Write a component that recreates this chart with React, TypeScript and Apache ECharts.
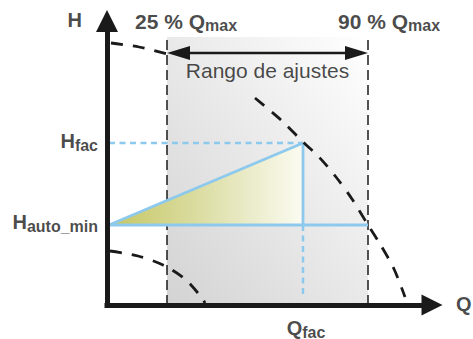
import { useEffect, useRef } from "react";
import * as echarts from "echarts";

// ---- data (x: flow Q in diagram units, y: head H in diagram units) ----
const X_MAX = 325;
const Y_MAX = 284;
const Q_25 = 60; // 25 % Qmax
const Q_90 = 261; // 90 % Qmax
const RANGE_TOP = 268;
const RANGE_ARROW_H = 252;
const Q_FAC = 196;
const H_FAC = 162;
const H_AUTO_MIN = 80;
const Q_START = 2;
const Q_FAC_DASH_END = 8;

// max-speed pump curve (broken where it runs under the label)
const maxCurve: (number | string)[][] = [
  [4, 262], [32, 258], [60, 251], [104, "-"],
  [148, 207], [174, 185], [196, 163], [212, 148], [229, 128], [245, 106],
  [261, 80], [273, 61], [287, 36], [298, 8],
];
// min-speed pump curve
const minCurve: number[][] = [
  [3, 54], [31, 49], [56, 40], [78, 26], [95, 7], [98, 2],
];

const axisNames = ["H", "Q"];
const topLabels = ["25 %", "90 %"];
const rangeText = "Rango de ajustes";

const INK = "#1a1a1a";
const BLUE = "#8dc9ed";
const FONT = "'Liberation Sans', Arial, sans-serif";

const rich = {
  m: { fontSize: 20, fontWeight: "bold", color: INK, fontFamily: FONT, verticalAlign: "bottom", padding: [0, 0, 2, 0] },
  t: { fontSize: 21, fontWeight: "bold", color: INK, fontFamily: FONT, verticalAlign: "bottom", padding: [0, 0, 2, 0] },
  s: { fontSize: 16, fontWeight: "bold", color: INK, fontFamily: FONT, verticalAlign: "bottom" },
};

export default function App() {
  const ref = useRef<HTMLDivElement>(null);
  useEffect(() => {
    if (!ref.current) return;
    const chart = echarts.init(ref.current, null, { renderer: "svg" });
    const axisCommon = {
      type: "value",
      z: 10,
      axisTick: { show: false },
      axisLabel: { show: false },
      splitLine: { show: false },
    };
    const lbl = (value: number[], formatter: string, align: string, offset: number[], extra: any = {}) => ({
      value,
      label: { show: true, position: "inside", formatter, align, verticalAlign: "middle", offset, rich, ...extra },
    });
    chart.setOption({
      animation: false,
      backgroundColor: "#ffffff",
      grid: { left: 107, right: 41, top: 21, bottom: 34 },
      xAxis: {
        ...axisCommon,
        min: 0,
        max: X_MAX,
        axisLine: { show: true, symbol: ["none", "triangle"], symbolSize: [21, 21], lineStyle: { color: INK, width: 5, cap: "square" } },
      },
      yAxis: {
        ...axisCommon,
        min: 0,
        max: Y_MAX,
        axisLine: { show: true, symbol: ["none", "triangle"], symbolSize: [22, 22], lineStyle: { color: INK, width: 5, cap: "square" } },
      },
      series: [
        {
          type: "custom",
          silent: true,
          z: 1,
          encode: { x: [0, 1], y: 2 },
          data: [[Q_25, Q_90, RANGE_TOP]],
          renderItem: (params: any, api: any) => {
            const p0 = api.coord([api.value(0), 0]);
            const p1 = api.coord([api.value(1), api.value(2)]);
            return {
              type: "rect",
              shape: { x: p0[0], y: p1[1], width: p1[0] - p0[0], height: p0[1] - p1[1] },
              style: {
                fill: new echarts.graphic.LinearGradient(0, 1, 1, 0, [
                  { offset: 0, color: "#d3d3d3" },
                  { offset: 1, color: "#ffffff" },
                ]),
              },
            };
          },
        },
        // dashed range limits
        { type: "line", symbol: "none", silent: true, z: 2, data: [[Q_25, 0], [Q_25, RANGE_TOP]], lineStyle: { color: INK, width: 1.5, type: [10, 5] } },
        { type: "line", symbol: "none", silent: true, z: 2, data: [[Q_90, 0], [Q_90, RANGE_TOP]], lineStyle: { color: INK, width: 1.5, type: [10, 5] } },
        {
          type: "custom",
          silent: true,
          z: 3,
          encode: { x: [0, 1], y: [2, 3] },
          data: [[Q_START, Q_FAC, H_AUTO_MIN, H_FAC]],
          renderItem: (params: any, api: any) => {
            const a = api.coord([api.value(0), api.value(2)]);
            const b = api.coord([api.value(1), api.value(3)]);
            const c = api.coord([api.value(1), api.value(2)]);
            return {
              type: "polygon",
              shape: { points: [a, b, c] },
              style: {
                fill: new echarts.graphic.LinearGradient(0, 0, 1, 0, [
                  { offset: 0, color: "#c6c662" },
                  { offset: 0.45, color: "#dadca0" },
                  { offset: 1, color: "#fbfbf2" },
                ]),
              },
            };
          },
        },
        // blue lines
        { type: "line", symbol: "none", silent: true, z: 4, data: [[Q_START, H_AUTO_MIN], [Q_FAC, H_FAC]], lineStyle: { color: BLUE, width: 2.8 } },
        { type: "line", symbol: "none", silent: true, z: 4, data: [[Q_FAC, H_FAC], [Q_FAC, H_AUTO_MIN]], lineStyle: { color: BLUE, width: 2.8 } },
        { type: "line", symbol: "none", silent: true, z: 4, data: [[Q_START, H_AUTO_MIN], [Q_90, H_AUTO_MIN]], lineStyle: { color: BLUE, width: 2.8 } },
        { type: "line", symbol: "none", silent: true, z: 4, data: [[Q_START, H_FAC], [Q_FAC, H_FAC]], lineStyle: { color: BLUE, width: 2.5, type: [6, 4.5] } },
        { type: "line", symbol: "none", silent: true, z: 4, data: [[Q_FAC, H_AUTO_MIN], [Q_FAC, Q_FAC_DASH_END]], lineStyle: { color: BLUE, width: 2.5, type: [6, 4.5] } },
        // pump curves
        { type: "line", symbol: "none", silent: true, z: 5, smooth: 0.3, connectNulls: false, data: maxCurve, lineStyle: { color: INK, width: 2.8, type: [12, 10] } },
        { type: "line", symbol: "none", silent: true, z: 5, smooth: 0.3, data: minCurve, lineStyle: { color: INK, width: 2.8, type: [12, 10] } },
        // range arrow
        {
          type: "custom",
          silent: true,
          z: 6,
          encode: { x: [0, 1], y: 2 },
          data: [[Q_25, Q_90, RANGE_ARROW_H]],
          renderItem: (params: any, api: any) => {
            const a = api.coord([api.value(0), api.value(2)]);
            const b = api.coord([api.value(1), api.value(2)]);
            const L = 23, W = 7;
            return {
              type: "group",
              children: [
                { type: "line", shape: { x1: a[0] + L - 2, y1: a[1], x2: b[0] - L + 2, y2: b[1] }, style: { stroke: INK, lineWidth: 2.5 } },
                { type: "polygon", shape: { points: [[a[0], a[1]], [a[0] + L, a[1] - W], [a[0] + L, a[1] + W]] }, style: { fill: INK } },
                { type: "polygon", shape: { points: [[b[0], b[1]], [b[0] - L, b[1] - W], [b[0] - L, b[1] + W]] }, style: { fill: INK } },
              ],
            };
          },
        },
        // labels
        {
          type: "scatter",
          symbolSize: 0,
          silent: true,
          z: 20,
          data: [
            lbl([0, Y_MAX], `{m|${axisNames[0]}}`, "right", [-25, 0]),
            lbl([X_MAX, 0], `{m|${axisNames[1]}}`, "left", [24, 0]),
            lbl([Q_25, RANGE_TOP], `{t|${topLabels[0]} Q}{s|max}`, "left", [-32, -15]),
            lbl([Q_90, RANGE_TOP], `{t|${topLabels[1]} Q}{s|max}`, "left", [-30, -15]),
            lbl([0, H_FAC], "{m|H}{s|fac}", "right", [-9, -1]),
            lbl([0, H_AUTO_MIN], "{m|H}{s|auto_min}", "right", [-9, -2]),
            lbl([Q_FAC, 0], "{m|Q}{s|fac}", "center", [3, 24]),
            lbl([(Q_25 + Q_90) / 2, RANGE_ARROW_H], rangeText, "center", [0, 17], {
              fontSize: 21, fontFamily: FONT, color: INK, fontWeight: "normal",
            }),
          ],
        },
      ],
    });
    return () => chart.dispose();
  }, []);
  return (
    <div
      ref={ref}
      style={{ position: "fixed", left: 0, top: 0, width: 473, height: 339, background: "#fff" }}
    />
  );
}
